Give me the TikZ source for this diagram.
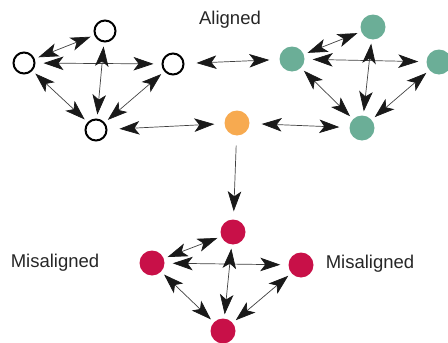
\documentclass[tikz,border=0pt]{standalone}
\usepackage{fontspec}
\setmainfont{Liberation Sans}
\usetikzlibrary{arrows.meta}
\definecolor{cgreen}{RGB}{107,174,151}
\definecolor{corange}{RGB}{247,170,80}
\definecolor{cred}{RGB}{200,16,72}
\tikzset{
  tip/.tip={Stealth[length=20pt,width=13.5pt,inset=5pt,color=black!90]},
  opendot/.style={circle,draw=black,line width=2pt,minimum size=21pt,inner sep=0pt},
  gdot/.style={circle,fill=cgreen,minimum size=25pt,inner sep=0pt},
  odot/.style={circle,fill=corange,minimum size=25pt,inner sep=0pt},
  rdot/.style={circle,fill=cred,minimum size=25pt,inner sep=0pt},
  dbl/.style={{tip}-{tip},line width=0.7pt,draw=black!75,shorten >=4pt,shorten <=4pt},
  dblfar/.style={dbl,shorten >=10pt,shorten <=12pt},
  one/.style={-{tip},line width=0.7pt,draw=black!75,shorten >=8pt,shorten <=10pt},
  lbl/.style={font=\fontsize{18.5}{22}\selectfont,text=black!85,inner sep=0pt}
}
\begin{document}
\begin{tikzpicture}[x=1pt,y=-1pt]
\useasboundingbox (0,0) rectangle (448,343);
% open group
\node[opendot] (at) at (105,31) {};
\node[opendot] (al) at (24,63) {};
\node[opendot] (ar) at (173,64) {};
\node[opendot] (ab) at (96,130) {};
% green group
\node[gdot] (gl) at (292,59) {};
\node[gdot] (gt) at (373,27) {};
\node[gdot] (gr) at (439,62) {};
\node[gdot] (gb) at (362,128) {};
% orange
\node[odot] (o) at (237,123) {};
% red group
\node[rdot] (rt) at (233,232) {};
\node[rdot] (rl) at (152,263) {};
\node[rdot] (rr) at (301,265) {};
\node[rdot] (rb) at (223,331) {};
% labels
\node[lbl] (la) at (230,20) {Aligned};
\node[lbl] (ml) at (55,263) {Misaligned};
\node[lbl] (mr) at (370,264) {Misaligned};
% edges
\foreach \t/\l/\r/\b in {at/al/ar/ab, gt/gl/gr/gb, rt/rl/rr/rb}{
  \draw[dbl] (\t) -- (\l);
  \draw[dbl,shorten <=8pt,shorten >=8pt] (\l) -- (\r);
  \draw[dbl] (\t) -- (\b);
  \draw[dbl] (\l) -- (\b);
  \draw[dbl] (\r) -- (\b);
}
\draw[dblfar] (ar) -- (gl);
\draw[dblfar] (ab) -- (o);
\draw[dblfar] (o) -- (gb);
\draw[one] (o) -- (rt);
\end{tikzpicture}
\end{document}
